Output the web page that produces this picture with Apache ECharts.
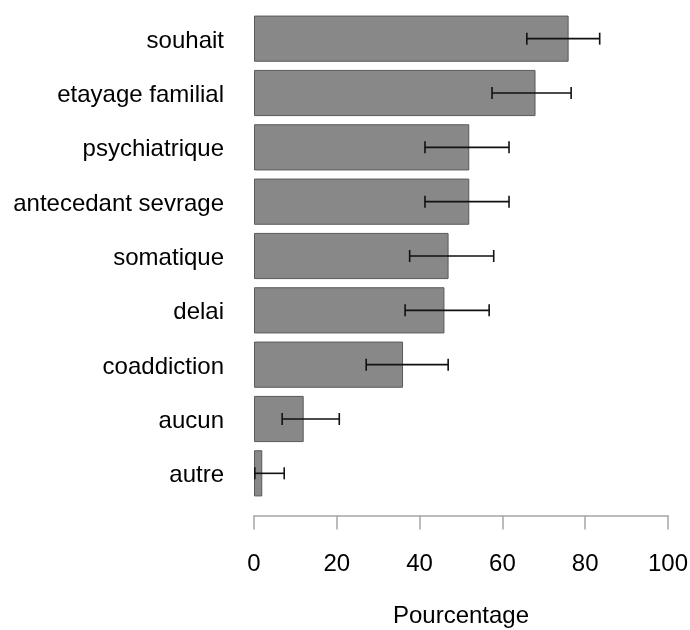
<!DOCTYPE html>
<html>
<head>
<meta charset="utf-8">
<script src="https://cdn.jsdelivr.net/npm/echarts@6/dist/echarts.min.js"></script>
<style>
  html, body { margin: 0; padding: 0; background: #fff; }
  #chart { width: 690px; height: 630px; }
</style>
</head>
<body>
<div id="chart"></div>
<script>
// Categories, from top to bottom
const categories = ['souhait', 'etayage familial', 'psychiatrique', 'antecedant sevrage',
  'somatique', 'delai', 'coaddiction', 'aucun', 'autre'];
// Percentage of respondents per category
const percent = [76, 68, 52, 52, 47, 46, 36, 12, 2];
// Confidence interval bounds
const ciLow = [65.9, 57.5, 41.3, 41.3, 37.6, 36.5, 27.1, 6.8, 0.2];
const ciHigh = [83.5, 76.6, 61.6, 61.6, 57.9, 56.8, 46.9, 20.6, 7.3];
const xTicks = [0, 20, 40, 60, 80, 100];

const FONT = '"Liberation Sans", Arial, sans-serif';

const chart = echarts.init(document.getElementById('chart'), null, { renderer: 'canvas' });

const errorData = categories.map((c, i) => [i, ciLow[i], ciHigh[i]]);

chart.setOption({
  animation: false,
  grid: { left: 254, right: 22, top: 11.5, bottom: 129.5, outerBoundsMode: 'none', containLabel: false },
  xAxis: {
    type: 'value',
    min: xTicks[0],
    max: xTicks[xTicks.length - 1],
    interval: xTicks[1] - xTicks[0],
    offset: 15,
    name: 'Pourcentage',
    nameLocation: 'middle',
    nameGap: 89,
    nameTextStyle: { fontFamily: FONT, fontSize: 24, color: '#000' },
    axisLine: { show: true, lineStyle: { color: '#a6a6a6', width: 1.5 } },
    axisTick: { show: true, length: 14, lineStyle: { color: '#a6a6a6', width: 1.5 } },
    axisLabel: { fontFamily: FONT, fontSize: 24, color: '#000', margin: 37 },
    splitLine: { show: false }
  },
  yAxis: {
    type: 'category',
    data: categories,
    inverse: true,
    axisLine: { show: false },
    axisTick: { show: false },
    axisLabel: {
      margin: 30,
      formatter: '{t|{value}}',
      rich: { t: { fontFamily: FONT, fontSize: 24, color: '#000', padding: [5, 0, 0, 0] } }
    }
  },
  series: [
    {
      type: 'bar',
      data: percent,
      barCategoryGap: '15%',
      itemStyle: { color: '#888888', borderColor: '#5a5a5a', borderWidth: 1 }
    },
    {
      type: 'custom',
      data: errorData,
      z: 10,
      renderItem: function (params, api) {
        const idx = api.value(0);
        const p1 = api.coord([api.value(1), idx]);
        const p2 = api.coord([api.value(2), idx]);
        const h = 6;
        const style = { stroke: '#111', lineWidth: 1.6 };
        return {
          type: 'group',
          children: [
            { type: 'line', shape: { x1: p1[0], y1: p1[1], x2: p2[0], y2: p2[1] }, style: style },
            { type: 'line', shape: { x1: p1[0], y1: p1[1] - h, x2: p1[0], y2: p1[1] + h }, style: style },
            { type: 'line', shape: { x1: p2[0], y1: p2[1] - h, x2: p2[0], y2: p2[1] + h }, style: style }
          ]
        };
      }
    }
  ]
});
</script>
</body>
</html>
